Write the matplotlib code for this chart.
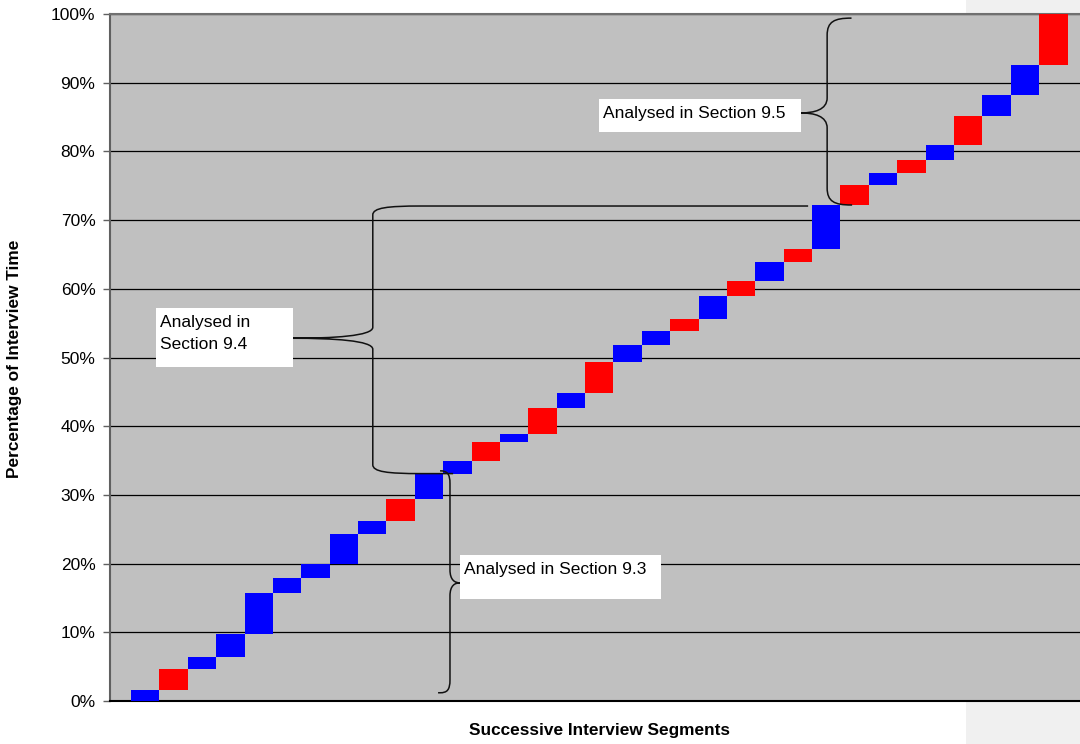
import numpy as np
import matplotlib
matplotlib.use("Agg")
import matplotlib.pyplot as plt
from matplotlib.patches import Rectangle, PathPatch
from matplotlib.path import Path

plt.rcParams['font.family'] = ['Liberation Sans', 'DejaVu Sans']

# === Data: length of each successive interview segment (% of interview time)
segment_share = [1.6, 3.0, 1.8, 3.4, 5.9, 2.2, 2.1, 4.3, 1.9, 3.2,
                 3.6, 1.9, 2.8, 1.2, 3.8, 2.1, 4.6, 2.4, 2.1, 1.7,
                 3.4, 2.1, 2.8, 1.9, 6.4, 2.9, 1.8, 1.9, 2.1, 4.2,
                 3.1, 4.4, 7.4]
# who is speaking in each segment: "B" = blue, "R" = red
speaker = ["B", "R", "B", "B", "B", "B", "B", "B", "B", "R",
           "B", "B", "R", "B", "R", "B", "R", "B", "B", "R",
           "B", "R", "B", "R", "B", "R", "B", "R", "B", "R",
           "B", "B", "R"]
speaker_colors = {"B": "#0000FF", "R": "#FF0000"}
y_ticks = [0, 10, 20, 30, 40, 50, 60, 70, 80, 90, 100]
y_tick_labels = [f"{t}%" for t in y_ticks]

# === Section annotations (text, box in data coords)
section_labels = ["Analysed in\nSection 9.4", "Analysed in Section 9.3", "Analysed in Section 9.5"]
section_boxes = [(1.38, 48.6, 6.21, 57.2),     # x0, y0, x1, y1
                 (12.09, 14.85, 19.18, 21.25),
                 (16.99, 82.8, 24.11, 87.6)]

# brace: spine x, top y, bottom y, tip x, tip y, top arm end, bottom arm end,
#        corner dx, corner dy, mid dy
braces = [
    (9.02, 72.05, 33.1, 6.2, 52.8, 24.36, 11.85, 1.7, 1.3, 1.6),
    (11.74, 33.5, 1.2, 12.09, 17.2, 11.39, 11.32, -0.35, 1.9, 1.9),
    (25.03, 99.4, 72.2, 24.1, 85.6, 25.87, 25.91, 0.85, 2.5, 2.2),
]

ends = np.cumsum(segment_share)
starts = ends - np.array(segment_share)
x = np.arange(1, len(segment_share) + 1)

fig = plt.figure(figsize=(10.8, 7.44), dpi=100)
fig.patch.set_facecolor("white")
fig.patches.append(Rectangle((966 / 1080, 0), 1 - 966 / 1080, 1, transform=fig.transFigure,
                             facecolor="#F0F0F0", edgecolor="none", zorder=-5))
ax = fig.add_axes([110 / 1080, 43 / 744, 970 / 1080, 687 / 744])
ax.set_zorder(1)
ax.set_facecolor("#C0C0C0")

ax.bar(x, segment_share, bottom=starts, width=1.0,
       color=[speaker_colors[s] for s in speaker], edgecolor="none", zorder=3)

ax.set_xlim(-0.24, 33.94)
ax.set_ylim(0, 100)
ax.set_yticks(y_ticks)
ax.set_yticklabels(y_tick_labels, fontsize=12.5)
ax.set_xticks([])
ax.tick_params(axis="y", length=5, width=1, color="#606060", pad=5.5)
ax.yaxis.grid(True, color="black", linewidth=0.9, zorder=1)
ax.set_axisbelow(True)

ax.spines["right"].set_visible(False)
ax.spines["left"].set_color("#606060")
ax.spines["left"].set_linewidth(1.5)
ax.spines["top"].set_color("#707070")
ax.spines["top"].set_linewidth(1.5)
ax.spines["bottom"].set_color("black")
ax.spines["bottom"].set_linewidth(1.5)


def draw_brace(ax, xv, ytop, ybot, xtip, ytip, xtop_end, xbot_end, cdx, cdy, mdy):
    # corner dx sign follows the arms' direction
    verts = [(xtop_end, ytop), (xv + cdx, ytop),
             (xv + cdx * 0.3, ytop), (xv, ytop - cdy * 0.2), (xv, ytop - cdy),
             (xv, ytip + mdy),
             (xv, ytip + mdy * 0.2), (xv - (xv - xtip) * 0.5, ytip), (xtip, ytip),
             (xv - (xv - xtip) * 0.5, ytip), (xv, ytip - mdy * 0.2), (xv, ytip - mdy),
             (xv, ybot + cdy),
             (xv, ybot + cdy * 0.2), (xv + cdx * 0.3, ybot), (xv + cdx, ybot),
             (xbot_end, ybot)]
    codes = [Path.MOVETO, Path.LINETO,
             Path.CURVE4, Path.CURVE4, Path.CURVE4,
             Path.LINETO,
             Path.CURVE4, Path.CURVE4, Path.CURVE4,
             Path.CURVE4, Path.CURVE4, Path.CURVE4,
             Path.LINETO,
             Path.CURVE4, Path.CURVE4, Path.CURVE4,
             Path.LINETO]
    ax.add_patch(PathPatch(Path(verts, codes), facecolor="none", edgecolor="#111111",
                           linewidth=1.1, zorder=4, clip_on=False))


for b in braces:
    draw_brace(ax, *b)

for label, (x0, y0, x1, y1) in zip(section_labels, section_boxes):
    ax.add_patch(Rectangle((x0, y0), x1 - x0, y1 - y0, facecolor="white",
                           edgecolor="none", zorder=5))
    ax.text(x0 + 0.15, y1 - 1.0, label, ha="left", va="top", fontsize=12.5,
            linespacing=1.55, zorder=6)

fig.text(599.5 / 1080, 1 - 730 / 744, "Successive Interview Segments", ha="center",
         va="center", fontsize=12.4, fontweight="bold")
fig.text(15 / 1080, 1 - 359 / 744, "Percentage of Interview Time", ha="center",
         va="center", rotation=90, fontsize=12.4, fontweight="bold")

fig.savefig("out.png", dpi=100)
